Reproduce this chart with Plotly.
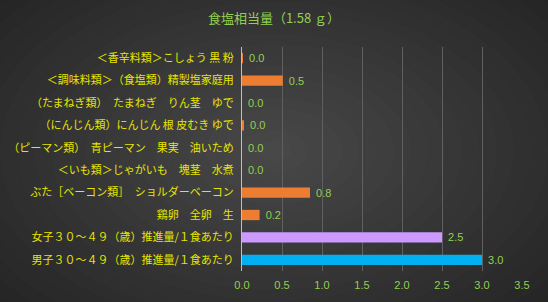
import plotly.graph_objects as go

categories = [
    "＜香辛料類＞こしょう 黒 粉",
    "＜調味料類＞（食塩類）精製塩家庭用",
    "（たまねぎ類）　たまねぎ　りん茎　ゆで",
    "（にんじん類）にんじん 根 皮むき ゆで",
    "（ピーマン類）　青ピーマン　果実　油いため",
    "＜いも類＞じゃがいも　塊茎　水煮",
    "ぶた［ベーコン類］　ショルダーベーコン",
    "鶏卵　全卵　生",
    "女子３０～４９（歳）推進量/１食あたり",
    "男子３０～４９（歳）推進量/１食あたり",
]
values = [0.01, 0.51, 0.0, 0.02, 0.0, 0.0, 0.85, 0.22, 2.5, 3.0]
colors = ["#ED7D31"] * 8 + ["#CC99FF", "#00B0F0"]
title_text = "食塩相当量（1.58 ｇ）"
x_ticks = [0.0, 0.5, 1.0, 1.5, 2.0, 2.5, 3.0, 3.5]

fig = go.Figure()
fig.add_trace(go.Bar(
    y=categories, x=values, orientation="h",
    marker=dict(color=colors, line=dict(width=0)),
    width=0.46,
    text=["\u00a0" + f"{v:.1f}" for v in values],
    textposition="outside",
    constraintext="none",
    textfont=dict(color="#92D050", size=11, family="Liberation Sans, Arial"),
    cliponaxis=False,
))

# smooth radial background glow centred on the figure
W, H = 548, 302
L, R, T, B = 242, 26, 47, 31
pw, ph = W - L - R, H - T - B
cx = (W / 2 - L) / pw
cy = (H - B - H / 2) / ph
shapes = []
n = 24
for i in range(n):
    f = 1 - i / n
    rx = (W * 0.75 * f) / pw
    ry = (H * 0.85 * f) / ph
    v = int(0x22 + (0x48 - 0x22) * (i / (n - 1)))
    c = f"rgb({v},{v},{v})"
    shapes.append(dict(type="circle", xref="paper", yref="paper", layer="below",
                       x0=cx - rx, x1=cx + rx, y0=cy - ry, y1=cy + ry,
                       fillcolor=c, line=dict(width=0)))

fig.update_layout(
    width=W, height=H,
    margin=dict(l=L, r=R, t=T, b=B, autoexpand=False),
    paper_bgcolor="#202020",
    plot_bgcolor="rgba(0,0,0,0)",
    shapes=shapes,
    showlegend=False,
    title=dict(text=title_text, x=0.5, xref="container", xanchor="center", y=0.94, yanchor="middle",
               font=dict(color="#92D050", size=13, family="Noto Sans CJK JP")),
    xaxis=dict(range=[0, 3.5], tickvals=x_ticks, ticktext=[f"{t:.1f}" for t in x_ticks],
               showgrid=True, gridcolor="#606060", gridwidth=1, automargin=False,
               zeroline=False, showline=False, ticks="outside", ticklen=4, tickcolor="rgba(0,0,0,0)",
               tickfont=dict(color="#92D050", size=11, family="Liberation Sans, Arial")),
    yaxis=dict(categoryorder="array", categoryarray=categories, autorange="reversed",
               showline=True, linecolor="#bfbfbf", linewidth=1, ticks="", automargin=False,
               ticklabelstandoff=5, showgrid=False,
               tickfont=dict(color="#E6E600", size=11, family="Noto Sans CJK JP")),
    bargap=0.45,
)
fig.write_html("out.html")
